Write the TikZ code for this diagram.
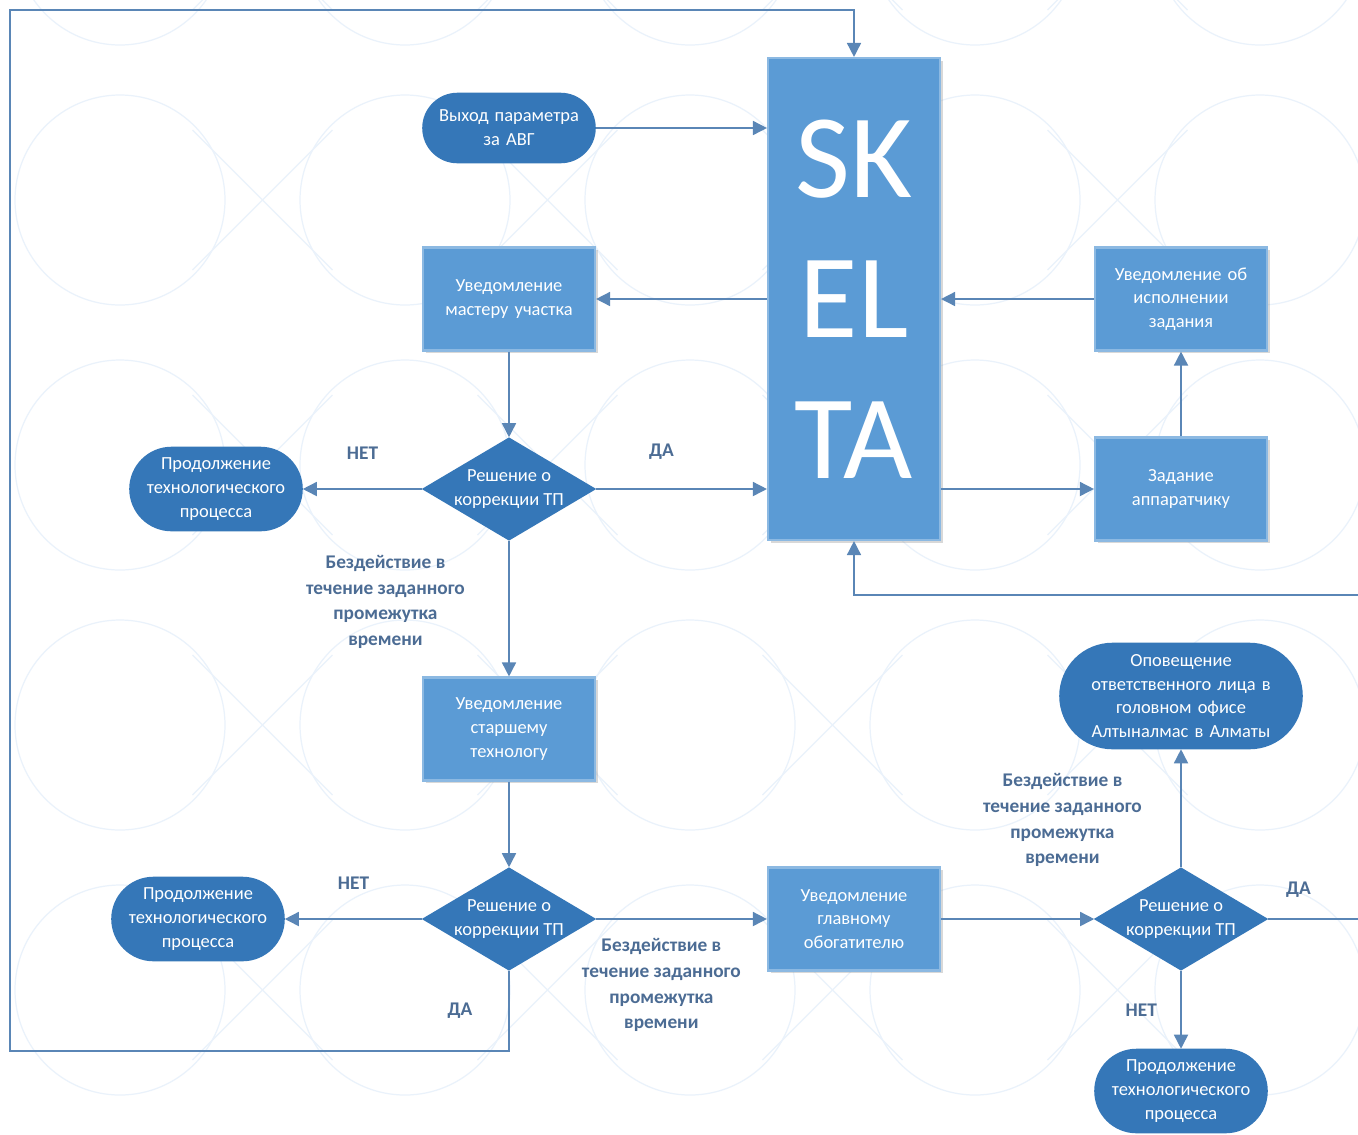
\documentclass[tikz,border=0pt]{standalone}
\usepackage{fontspec}
\setmainfont{Carlito}
\usepackage{tikz}
\usetikzlibrary{arrows.meta,shapes.geometric,positioning,shadows}
\definecolor{boxblue}{HTML}{5B9BD5}
\definecolor{darkblue}{HTML}{3577B8}
\definecolor{lineblue}{HTML}{5A86B6}
\definecolor{labelblue}{HTML}{4C6C94}
\definecolor{wmark}{HTML}{EAF2FB}

\begin{document}
\begin{tikzpicture}[->,>={Triangle[length=8pt,width=8pt]},line width=0.9pt,
                    color=lineblue,node distance=3.8cm]
  \tikzstyle{every node}=[font=\fontsize{10.5}{13.5}\selectfont,text=white,align=center]
  \tikzstyle{box}=[rectangle,fill=boxblue,draw=boxblue!70!white,line width=1.2pt,
                   minimum width=3.44cm,minimum height=2.06cm,text width=3cm,
                   drop shadow={shadow xshift=1.5pt,shadow yshift=-1.5pt,opacity=0.3,fill=gray}]
  \tikzstyle{term}=[rectangle,fill=darkblue,draw=darkblue,rounded corners=0.83cm,
                    minimum width=3.44cm,minimum height=1.66cm,text width=3.1cm,inner sep=0pt]
  \tikzstyle{dec}=[diamond,fill=darkblue,draw=darkblue,aspect=1.69,inner sep=-1.5pt,
                   minimum width=3.44cm,minimum height=2.04cm]
  \tikzstyle{lbl}=[text=labelblue,font=\bfseries\fontsize{11}{14.7}\selectfont]

\useasboundingbox (0,0) rectangle (27.16,-22.68);
\fill[white] (0,0) rectangle (27.16,-22.68);
% background pattern
\begin{scope}[-,draw=wmark,line width=0.7pt]
  \foreach \y in {1.2,-4.0,-9.3,-14.5,-19.8} {
    \foreach \x in {2.4,8.1,13.8,19.5,25.2}
      \draw (\x,\y) circle (2.1);
    \foreach \x in {5.25,10.95,16.65,22.35}
      \draw (\x-1.4,\y+1.4) -- (\x+1.4,\y-1.4) (\x-1.4,\y-1.4) -- (\x+1.4,\y+1.4);
  }
\end{scope}

\node [box,minimum height=9.64cm,font=\fontsize{68}{80}\selectfont] (0) at (17.08,-5.98) {SK\\EL\\TA};
\node [box] (1) [left of=0,node distance=6.9cm] {Уведомление\\мастеру участка};
\node [term,minimum height=1.38cm,rounded corners=0.69cm] (2) [above of=1,node distance=3.42cm] {Выход параметра\\за АВГ};
\node [dec] (3) [below of=1] {Решение о\\коррекции ТП};
\node [term] (4) [left of=3,node distance=5.86cm] {Продолжение\\технологического\\процесса};
\node [box] (5) [below of=3,node distance=4.8cm] {Уведомление\\старшему\\технологу};
\node [dec] (6) [below of=5] {Решение о\\коррекции ТП};
\node [term] (7) [left of=6,node distance=6.22cm] {Продолжение\\технологического\\процесса};
\node [box] (8) [right of=6,node distance=6.9cm] {Уведомление\\главному\\обогатителю};
\node [dec] (9) [right of=8,node distance=6.54cm] {Решение о\\коррекции ТП};
\node [term,minimum width=4.84cm,minimum height=2.1cm,rounded corners=1.05cm,text width=4.4cm] (10)
      [above of=9,node distance=4.46cm] {Оповещение\\ответственного лица в\\головном офисе\\Алтыналмас в Алматы};
\node [term] (11) [below of=9,node distance=3.44cm] {Продолжение\\технологического\\процесса};
\node [box] (12) [above of=9,node distance=8.6cm] {Задание\\аппаратчику};
\node [box] (13) [above of=12] {Уведомление об\\исполнении\\задания};

\coordinate (loopL) at (0.2,-0.2);
\coordinate (loopR) at (27.4,-11.9);

\path (2) edge (2 -| 0.west)
      (1 -| 0.west) edge (1)
      (13) edge (13 -| 0.east)
      (12) edge (13)
      (12 -| 0.east) edge (12)
      (1) edge (3)
      (3) edge node [lbl,above=0.45cm] {НЕТ} (4)
      (3.east) edge node [lbl,above=0.45cm,xshift=-0.4cm] {ДА} (3.east -| 0.west)
      (3) edge node [lbl,left=0.75cm,pos=0.45] {Бездействие в\\течение заданного\\промежутка\\времени} (5)
      (5) edge (6)
      (6) edge node [lbl,above=0.45cm] {НЕТ} (7)
      (6) edge node [lbl,below=0.25cm,xshift=-0.4cm] {Бездействие в\\течение заданного\\промежутка\\времени} (8)
      (8) edge (9)
      (9) edge node [lbl,left=0.65cm,pos=0.4] {Бездействие в\\течение заданного\\промежутка\\времени} (10)
      (9) edge node [lbl,left=0.35cm] {НЕТ} (11);
\draw (6.south) -- ++(0,-1.6) node [lbl,midway,left=0.6cm] {ДА} -| (loopL) -| (0.north);
\draw (9.east) -| node [lbl,pos=0.15,above=0.3cm] {ДА} (loopR) -| (0.south);

\end{tikzpicture}
\end{document}
